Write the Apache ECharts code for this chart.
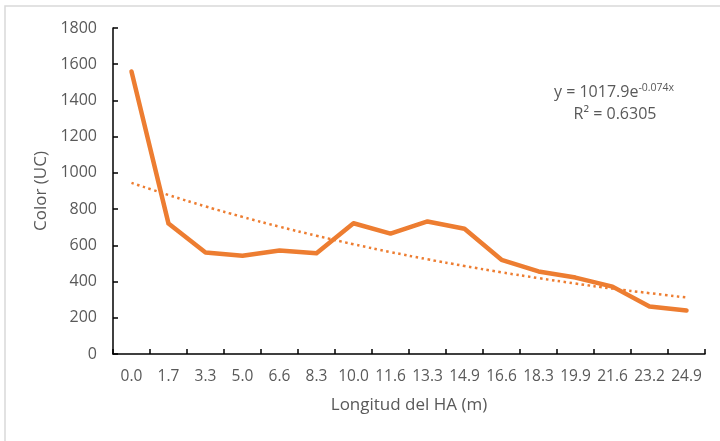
<!DOCTYPE html>
<html>
<head>
<meta charset="utf-8">
<script src="https://cdn.jsdelivr.net/npm/echarts@6/dist/echarts.min.js"></script>
<style>html,body{margin:0;padding:0;background:#fff;}#c{width:720px;height:441px;}</style>
</head>
<body>
<div id="c"></div>
<script>
const categories = ['0.0','1.7','3.3','5.0','6.6','8.3','10.0','11.6','13.3','14.9','16.6','18.3','19.9','21.6','23.2','24.9'];
const colorValues = [1560, 720, 560, 542, 572, 556, 722, 665, 732, 692, 520, 456, 422, 372, 262, 240];
const trendValues = [945, 878, 815, 757, 703, 653, 606, 563, 523, 486, 451, 419, 389, 361, 336, 312];
const yTicks = {min: 0, max: 1800, interval: 200};

const FONT = '"Open Sans"';
const GRAY = '#595959';
const ORANGE = '#ED7D31';

const chart = echarts.init(document.getElementById('c'), null, {renderer: 'canvas'});
chart.setOption({
  backgroundColor: '#fff',
  animation: false,
  textStyle: {fontFamily: FONT},
  grid: {left: 113, right: 15, top: 28, bottom: 87, containLabel: false},
  xAxis: {
    type: 'category',
    data: categories,
    boundaryGap: true,
    name: 'Longitud del HA (m)',
    nameLocation: 'middle',
    nameGap: 43,
    nameTextStyle: {color: GRAY, fontSize: 17, fontFamily: FONT},
    axisLine: {lineStyle: {color: '#000', width: 1.5}},
    axisTick: {show: true, inside: true, length: 5, alignWithLabel: false, lineStyle: {color: '#000', width: 1.5}},
    axisLabel: {color: GRAY, fontSize: 15.5, fontFamily: FONT, margin: 15, interval: 0},
    splitLine: {show: false}
  },
  yAxis: {
    type: 'value',
    min: yTicks.min, max: yTicks.max, interval: yTicks.interval,
    name: 'Color (UC)',
    nameLocation: 'middle',
    nameRotate: 90,
    nameGap: 62,
    nameTextStyle: {color: GRAY, fontSize: 17, fontFamily: FONT},
    axisLine: {show: true, lineStyle: {color: '#000', width: 1.5}},
    axisTick: {show: true, inside: true, length: 5, lineStyle: {color: '#000', width: 1.5}},
    axisLabel: {color: GRAY, fontSize: 16, fontFamily: FONT, margin: 16, formatter: function (v) { return String(v); }},
    splitLine: {show: false}
  },
  series: [
    {
      type: 'line',
      data: colorValues,
      symbol: 'none',
      lineStyle: {color: ORANGE, width: 4.5, cap: 'round', join: 'round'},
      z: 3
    },
    {
      type: 'line',
      data: trendValues,
      symbol: 'none',
      smooth: true,
      lineStyle: {color: ORANGE, width: 2.5, type: [2.5, 3.5], cap: 'butt'},
      z: 2
    }
  ],
  graphic: [
    {
      type: 'rect',
      shape: {x: 5, y: 6, width: 740, height: 460},
      style: {fill: 'none', stroke: '#d9d9d9', lineWidth: 1.5},
      silent: true, z: -1
    },
    {
      type: 'text',
      x: 614, y: 92,
      style: {
        text: '{a|y = 1017.9e}{s|-0.074x}',
        align: 'center', verticalAlign: 'middle',
        rich: {
          a: {fontSize: 16, fontFamily: FONT, fill: GRAY, color: GRAY},
          s: {fontSize: 10.5, fontFamily: FONT, fill: GRAY, color: GRAY, verticalAlign: 'top', padding: [0,0,8,0]}
        }
      }
    },
    {
      type: 'text',
      x: 615, y: 114,
      style: {
        text: 'R² = 0.6305',
        font: '16px ' + FONT,
        fill: GRAY,
        align: 'center', verticalAlign: 'middle'
      }
    }
  ]
});
</script>
</body>
</html>
